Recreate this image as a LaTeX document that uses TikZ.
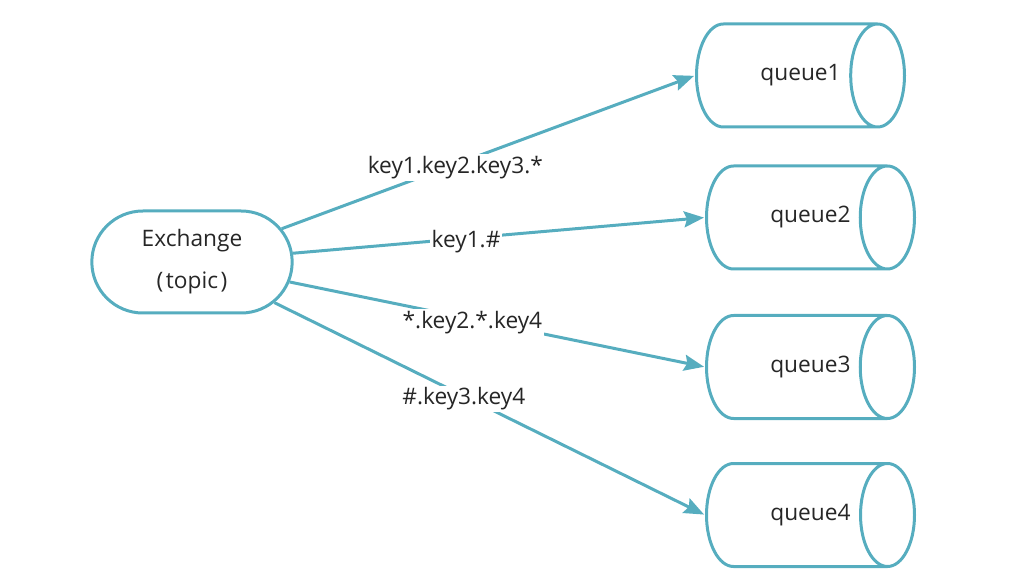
\documentclass[tikz,border=0pt]{standalone}
\usepackage{fontspec}
\setmainfont{Open Sans}
\usetikzlibrary{shapes.geometric,shapes.misc,arrows.meta}
\definecolor{tealline}{HTML}{56ADBF}
\definecolor{txt}{HTML}{262626}
\tikzset{
    every node/.style={text=txt, font=\fontsize{22.7}{42}\selectfont}
}
\tikzset{
    exch/.style={rounded rectangle, draw=tealline, line width=3pt,
    	minimum width=207pt, minimum height=102pt, align=center},
    queue/.style={cylinder, draw=tealline, line width=3pt, aspect=1.9,
    	minimum width=103pt, minimum height=208pt, shape border rotate=0,
    	anchor=west, execute at begin node=\hspace*{38pt}},
    key/.style={fill=white, inner sep=2pt, pos=0.42, yshift=-3pt}
}
\tikzset{
	link/.style={draw=tealline, line width=3pt,
		-{Stealth[length=20pt,width=16pt,inset=3pt]}, shorten >=1pt}
}

\begin{document}
\begin{tikzpicture}[x=1pt,y=-1pt]
  \useasboundingbox (0,0) rectangle (1013,588);

  \node (ex) [exch] at (192,262) {Exchange\\(\kern2.5pt topic\kern2.5pt)};

  \node (q1) [queue] at (695,75.5) {queue1};

  \node (q2) [queue] at (705,217.5) {queue2};

  \node (q3) [queue] at (705,367) {queue3};

  \node (q4) [queue] at (705,515) {queue4};

  \draw [link] (ex) -- (q1.west) node [key] {key1.key2.key3.*};
  \draw [link] (ex) -- (q2.west) node [key] {key1.\#};
  \draw [link] (ex) -- (q3.west) node [key, pos=0.44] {*.key2.*.key4};
  \draw [link] (ex) -- (q4.west) node [key, pos=0.44] {\#.key3.key4};
\end{tikzpicture}
\end{document}
